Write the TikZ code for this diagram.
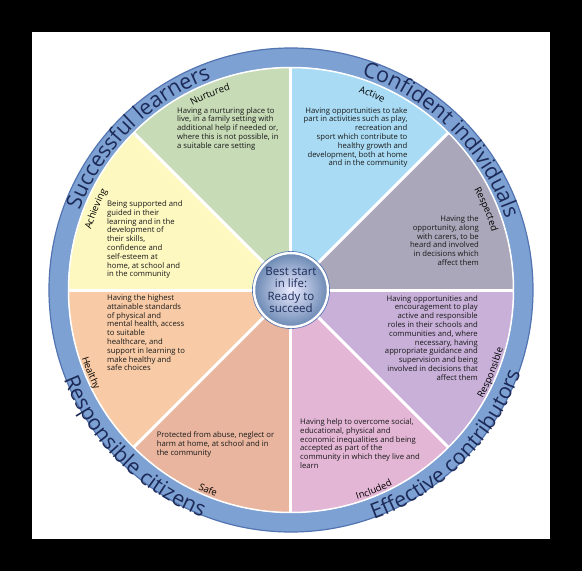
\documentclass[tikz,border=0pt]{standalone}
\usepackage{fontspec}
\setmainfont{Open Sans}
\usetikzlibrary{decorations.text}

\definecolor{ringblue}{HTML}{7EA1D3}
\definecolor{ringdark}{HTML}{5274B2}
\definecolor{navy}{HTML}{1C2A58}
\definecolor{activeblue}{HTML}{A9DCF4}
\definecolor{respectgrey}{HTML}{A9A7B9}
\definecolor{responsiblelilac}{HTML}{C8B0D8}
\definecolor{includepink}{HTML}{E3B6D5}
\definecolor{safesalmon}{HTML}{E9B59E}
\definecolor{healthpeach}{HTML}{F8CBA6}
\definecolor{achieveyellow}{HTML}{FDF7C0}
\definecolor{nurturegreen}{HTML}{C7DBB7}

\tikzset{
  body/.style={font=\fontsize{7.7}{8.8}\selectfont, inner sep=0pt, text=black!90},
  bodyleft/.style={body, align=left, anchor=north west},
  bodyright/.style={body, align=right, anchor=north east},
  hub/.style={circle, minimum size=74pt, inner sep=0pt, inner color=HubLight, outer color=HubDark,
    font=\fontsize{11.5}{12.6}\selectfont, text=navy, align=center},
  spoke/.style={white, line width=3pt},
  toplabel/.style={decorate, decoration={text along path, text align=center,
    text={|\fontsize{9.5}{10}\selectfont|#1}}},
  bottomlabel/.style={toplabel=#1},
  bigtop/.style={decorate, decoration={text along path, text align=center,
    text={|\fontsize{21.5}{23}\selectfont\color{navy}|#1}}},
  bigbottom/.style={bigtop=#1}
}
\colorlet{HubLight}{blue!8!white}
\colorlet{HubDark}{ringblue!85!black}

\begin{document}
\begin{tikzpicture}[x=1pt,y=1pt]
  % page and frame
  \fill[black] (-291,-281) rectangle (291,290);
  \fill[white] (-259,-249) rectangle (259,258);
  \useasboundingbox (-291,-281) rectangle (291,290);

  % sectors
  \foreach \a/\c in {45/activeblue, 0/respectgrey, -45/responsiblelilac, -90/includepink,
                     -135/safesalmon, 180/healthpeach, 135/achieveyellow, 90/nurturegreen}
    \fill[\c] (0,0) -- (\a:223) arc[start angle=\a, end angle=\a+45, radius=223] -- cycle;
  \foreach \a in {0,45,...,315}
    \draw[spoke] (0,0) -- (\a:224);

  % outer ring
  \fill[ringblue, even odd rule] (0,0) circle (242) (0,0) circle (223);
  \draw[ringdark, line width=1.2pt] (0,0) circle (242);
  \draw[white, line width=1.5pt] (0,0) circle (222.5);

  % ring headings
  \path[bigtop={Successful learners}] (180:226) arc[start angle=180, end angle=90, radius=226];
  \path[bigtop={Confident individuals}] (90:226) arc[start angle=90, end angle=0, radius=226];
  \path[bigbottom={Effective contributors}] (270:244) arc[start angle=270, end angle=360, radius=244];
  \path[bigbottom={Responsible citizens}] (180:244) arc[start angle=180, end angle=270, radius=244];

  % sector headings
  \path[toplabel={Achieving}] (180:209) arc[start angle=180, end angle=135, radius=209];
  \path[toplabel={Nurtured}] (135:209) arc[start angle=135, end angle=90, radius=209];
  \path[toplabel={Active}] (90:209) arc[start angle=90, end angle=45, radius=209];
  \path[toplabel={Respected}] (45:209) arc[start angle=45, end angle=0, radius=209];
  \path[bottomlabel={Responsible}] (315:220) arc[start angle=315, end angle=360, radius=220];
  \path[bottomlabel={Included}] (270:220) arc[start angle=270, end angle=315, radius=220];
  \path[bottomlabel={Safe}] (225:220) arc[start angle=225, end angle=270, radius=220];
  \path[bottomlabel={Healthy}] (180:220) arc[start angle=180, end angle=225, radius=220];

  % sector texts
  \node[bodyleft] (nurtured) at (-114,183) {Having a nurturing place to\\live, in a family setting with\\additional help if needed or,\\where this is not possible, in\\a suitable care setting};
  \node[bodyright] (active) at (116.6,183) {Having opportunities to take\\part in activities such as play,\\recreation and\\sport which contribute to\\healthy growth and\\development, both at home\\and in the community};
  \node[bodyright] (respected) at (188,74.5) {Having the\\opportunity, along\\with carers, to be\\heard and involved\\in decisions which\\affect them};
  \node[bodyright] (responsible) at (187,-5) {Having opportunities and\\encouragement to play\\active and responsible\\roles in their schools and\\communities and, where\\necessary, having\\appropriate guidance and\\supervision and being\\involved in decisions that\\affect them};
  \node[bodyleft] (included) at (9,-128.5) {Having help to overcome social,\\educational, physical and\\economic inequalities and being\\accepted as part of the\\community in which they live and\\learn};
  \node[bodyleft] (safe) at (-134.4,-141.5) {Protected from abuse, neglect or\\harm at home, at school and in\\the community};
  \node[bodyleft] (healthy) at (-184,-4.5) {Having the highest\\attainable standards\\of physical and\\mental health, access\\to suitable\\healthcare, and\\support in learning to\\make healthy and\\safe choices};
  \node[bodyleft] (achieving) at (-184,89.5) {Being supported and\\guided in their\\learning and in the\\development of\\their skills,\\confidence and\\self-esteem at\\home, at school and\\in the community};

  % hub
  \node[hub, draw=white, line width=2.5pt] (hub) at (0,0) {Best start\\in life:\\Ready to\\succeed};
  \draw[ringdark, line width=0.6pt] (hub.center) circle (38.6);
\end{tikzpicture}
\end{document}
